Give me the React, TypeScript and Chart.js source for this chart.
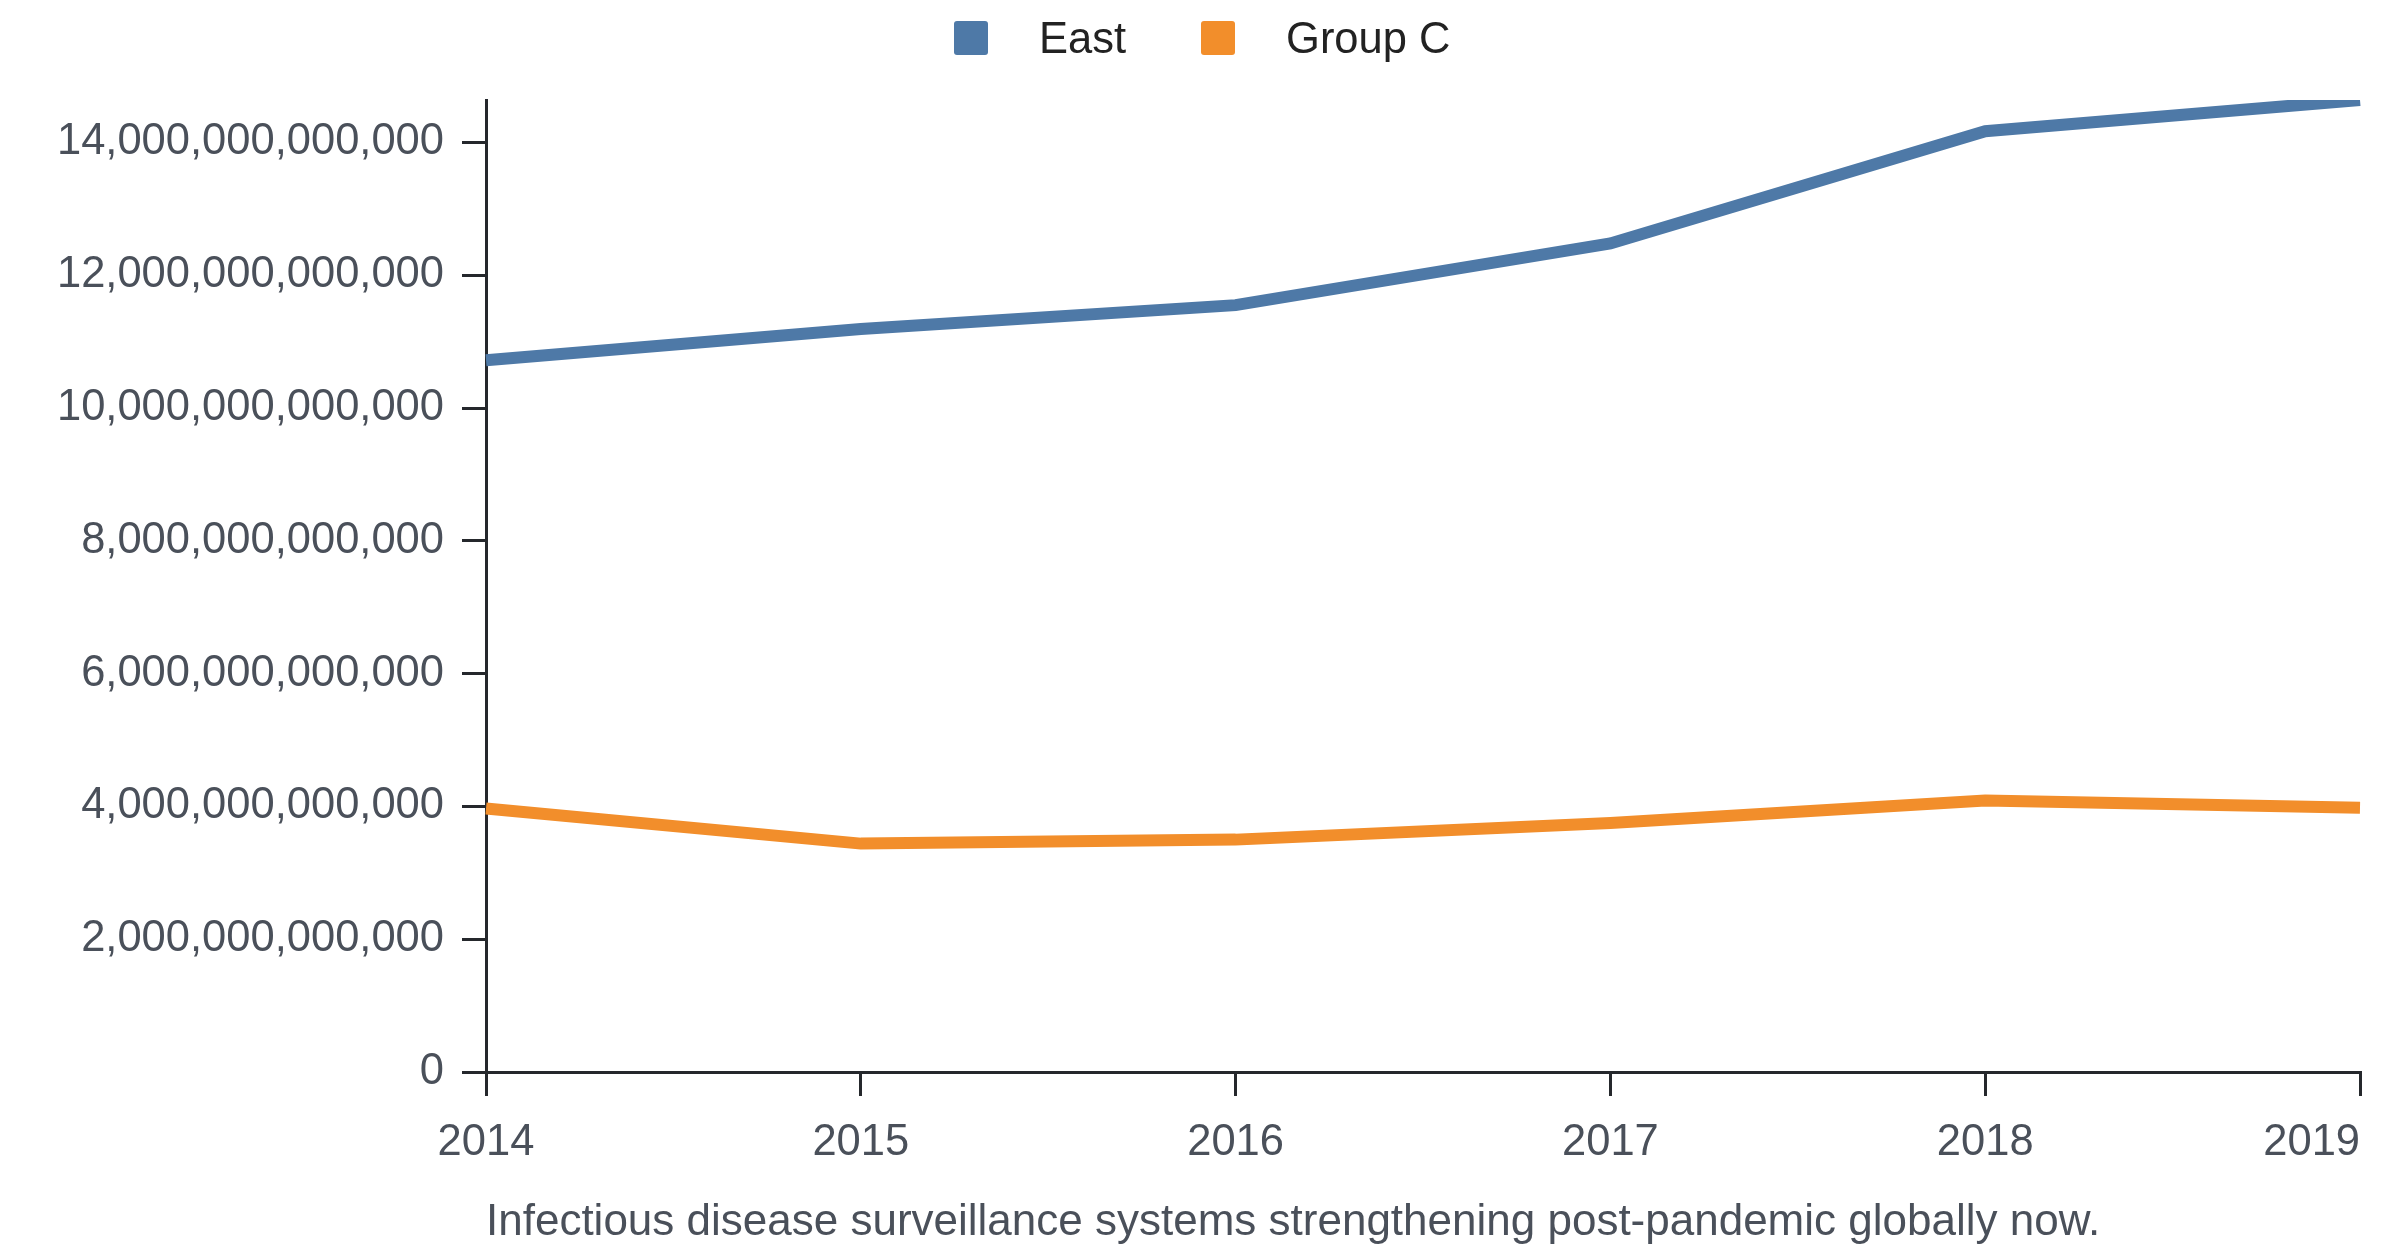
import { useEffect, useRef } from "react"
import { Chart, registerables } from "chart.js"

Chart.register(...registerables)

const years = ["2014", "2015", "2016", "2017", "2018", "2019"]
const eastValues = [10.72e12, 11.19e12, 11.55e12, 12.48e12, 14.17e12, 14.64e12]
const groupCValues = [3.97e12, 3.44e12, 3.5e12, 3.75e12, 4.09e12, 3.98e12]
const yTickValues = [0, 2e12, 4e12, 6e12, 8e12, 10e12, 12e12, 14e12]
const seriesNames = ["East", "Group C"]
const seriesColors = ["#4e79a7", "#f28e2b"]
const caption = "Infectious disease surveillance systems strengthening post-pandemic globally now."

const FONT = "'Liberation Sans', Arial, Helvetica, sans-serif"
const TEXT = "#4a505a"
const AXIS = "#25282c"

export default function App() {
  const canvasRef = useRef<HTMLCanvasElement | null>(null)
  const chartRef = useRef<Chart | null>(null)

  useEffect(() => {
    document.body.style.margin = "0"
    if (!canvasRef.current) return

    if (chartRef.current) {
      chartRef.current.destroy()
    }

    const ctx = canvasRef.current.getContext("2d")
    if (!ctx) return

    chartRef.current = new Chart(ctx, {
      type: "line",
      data: {
        labels: years,
        datasets: [
          {
            label: seriesNames[0],
            data: eastValues,
            borderColor: seriesColors[0],
            backgroundColor: seriesColors[0],
            borderWidth: 12,
            borderJoinStyle: "miter",
            pointRadius: 0,
            tension: 0,
          },
          {
            label: seriesNames[1],
            data: groupCValues,
            borderColor: seriesColors[1],
            backgroundColor: seriesColors[1],
            borderWidth: 12,
            borderJoinStyle: "miter",
            pointRadius: 0,
            tension: 0,
          },
        ],
      },
      options: {
        animation: false,
        responsive: true,
        maintainAspectRatio: false,
        layout: {
          padding: { top: 100, right: 0, bottom: 0, left: 0 },
        },
        plugins: {
          legend: { display: false },
          tooltip: { enabled: false },
        },
        scales: {
          x: {
            grid: {
              drawOnChartArea: false,
              drawTicks: true,
              tickLength: 24,
              lineWidth: 3,
              color: AXIS,
            },
            border: { display: true, color: AXIS, width: 3 },
            ticks: {
              color: TEXT,
              padding: 21,
              maxRotation: 0,
              font: { family: FONT, size: 43.5 },
              // the last year label sits flush with the axis end, inside the canvas
              callback: (_value, index) =>
                index === years.length - 1 ? years[index] + "        " : years[index],
            },
            afterFit: (scale) => {
              scale.height = 184
              scale.paddingRight = 40
            },
          },
          y: {
            min: 0,
            max: Math.max(...eastValues),
            grid: {
              drawOnChartArea: false,
              drawTicks: true,
              tickLength: 24,
              lineWidth: 3,
              color: AXIS,
            },
            border: { display: true, color: AXIS, width: 3 },
            ticks: {
              color: TEXT,
              padding: 18,
              font: { family: FONT, size: 43.5 },
              callback: (value) => Number(value).toLocaleString("en-US"),
            },
            afterBuildTicks: (scale) => {
              scale.ticks = yTickValues.map((value) => ({ value }))
            },
            afterFit: (scale) => {
              scale.width = 486
            },
          },
        },
      },
    })

    return () => {
      if (chartRef.current) {
        chartRef.current.destroy()
        chartRef.current = null
      }
    }
  }, [])

  return (
    <div style={{ position: "relative", width: 2400, height: 1256, overflow: "hidden", background: "#fff" }}>
      <canvas ref={canvasRef} />
      <div
        style={{
          position: "absolute",
          top: 16.5,
          left: 954,
          height: 43,
          display: "flex",
          alignItems: "center",
          fontFamily: FONT,
          fontSize: 43.5,
          lineHeight: "43px",
          color: "#222",
        }}
      >
        {seriesNames.map((name, i) => (
          <div key={name} style={{ display: "flex", alignItems: "center", marginLeft: i > 0 ? 75 : 0 }}>
            <span
              style={{
                display: "inline-block",
                width: 34,
                height: 34,
                borderRadius: 3,
                background: seriesColors[i],
                marginRight: 51,
              }}
            />
            <span>{name}</span>
          </div>
        ))}
      </div>
      <div
        style={{
          position: "absolute",
          top: 1198,
          left: 486,
          fontFamily: FONT,
          fontSize: 44,
          lineHeight: "44px",
          color: TEXT,
          whiteSpace: "nowrap",
        }}
      >
        {caption}
      </div>
    </div>
  )
}
